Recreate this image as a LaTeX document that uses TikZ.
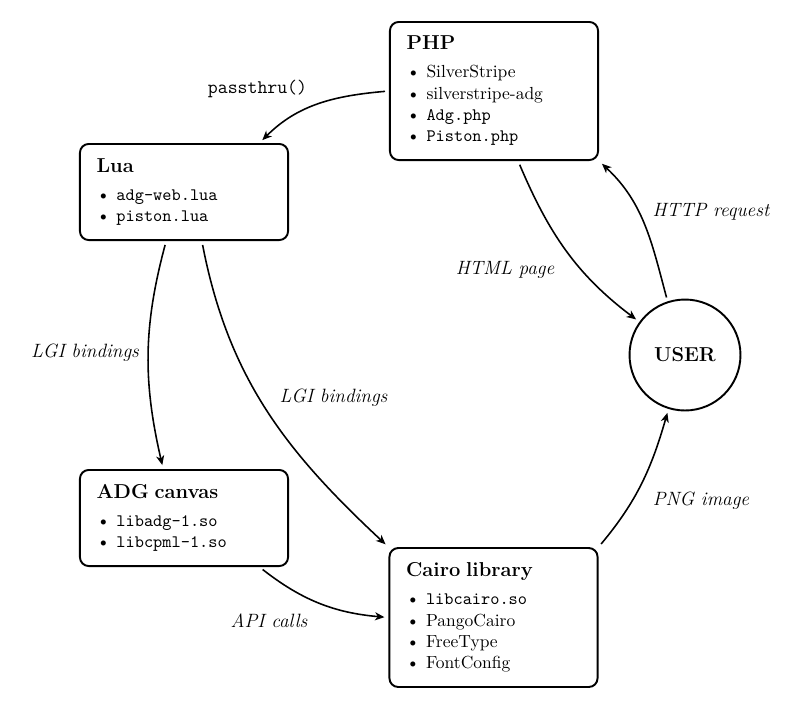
\documentclass[tikz,border=0pt]{standalone}
\usetikzlibrary{arrows.meta}
\newcommand\myitem{\textbullet\hspace{3.6pt}}
\newcommand\boxhead[1]{{\fontsize{11.5}{12.2}\selectfont\bfseries #1}}
\begin{document}
\begin{tikzpicture}[x=0.5714pt,y=0.5714pt,
  box/.style={draw, line width=1.1pt, rounded corners=5pt, align=left,
    text width=99.9pt, inner xsep=9.5pt, inner ysep=0pt,
    font=\fontsize{10}{12.2}\selectfont},
  userc/.style={draw, circle, line width=1.1pt, minimum size=63.4pt, inner sep=0pt,
    font=\fontsize{11.5}{13}\selectfont\bfseries},
  lbl/.style={font=\fontsize{11}{13}\selectfont\itshape, inner sep=0pt, anchor=base},
  conn/.style={-{Stealth[length=5.4pt,width=4.6pt,inset=1.6pt]}, line width=0.9pt,
    shorten <=2.3pt, shorten >=2.3pt}]
\useasboundingbox (0,0) rectangle (800,-710);

\node[box, minimum height=78.9pt] (php) at (494,-91)
  {\boxhead{PHP}\\[3.8pt]\myitem SilverStripe\\ \myitem silverstripe-adg\\ \myitem\texttt{Adg.php}\\ \myitem\texttt{Piston.php}};
\node[box, minimum height=54.9pt] (lua) at (184,-192)
  {\boxhead{Lua}\\[3.8pt]\myitem\texttt{adg-web.lua}\\ \myitem\texttt{piston.lua}};
\node[box, minimum height=54.9pt] (adg) at (184,-518)
  {\boxhead{ADG canvas}\\[3.8pt]\myitem\texttt{libadg-1.so}\\ \myitem\texttt{libcpml-1.so}};
\node[box, minimum height=79.4pt] (cairo) at (493.5,-617.5)
  {\boxhead{Cairo library}\\[3.8pt]\myitem\texttt{libcairo.so}\\ \myitem PangoCairo\\ \myitem FreeType\\ \myitem FontConfig};
\node[userc] (user) at (685,-355) {USER};

\draw[conn] (php.west) to[out=185,in=45] (lua.33);
\draw[conn] (lua.250.5) to[out=255,in=103] (adg.113.6);
\draw[conn] (lua.290.6) to[out=281,in=137] (cairo.north west);
\draw[conn] (adg.-33.3) to[out=322,in=175] (cairo.west);
\draw[conn] (php.289) to[out=293,in=143] (user.144.5);
\draw[conn] (user.108) to[out=105,in=-43] (php.south east);
\draw[conn] (cairo.north east) to[out=50,in=-106] (user.253);

\node[lbl, font=\fontsize{11}{13}\selectfont\ttfamily] (lpass) at (257.5,-93) {passthru()};
\node[lbl] (llgia) at (85,-357) {LGI bindings};
\node[lbl] (llgib) at (333.5,-402) {LGI bindings};
\node[lbl] (lapi) at (269,-627) {API calls};
\node[lbl] (lhtml) at (505,-274) {HTML page};
\node[lbl] (lhttp) at (711,-216) {HTTP request};
\node[lbl] (lpng) at (701,-505) {PNG image};
\end{tikzpicture}
\end{document}
